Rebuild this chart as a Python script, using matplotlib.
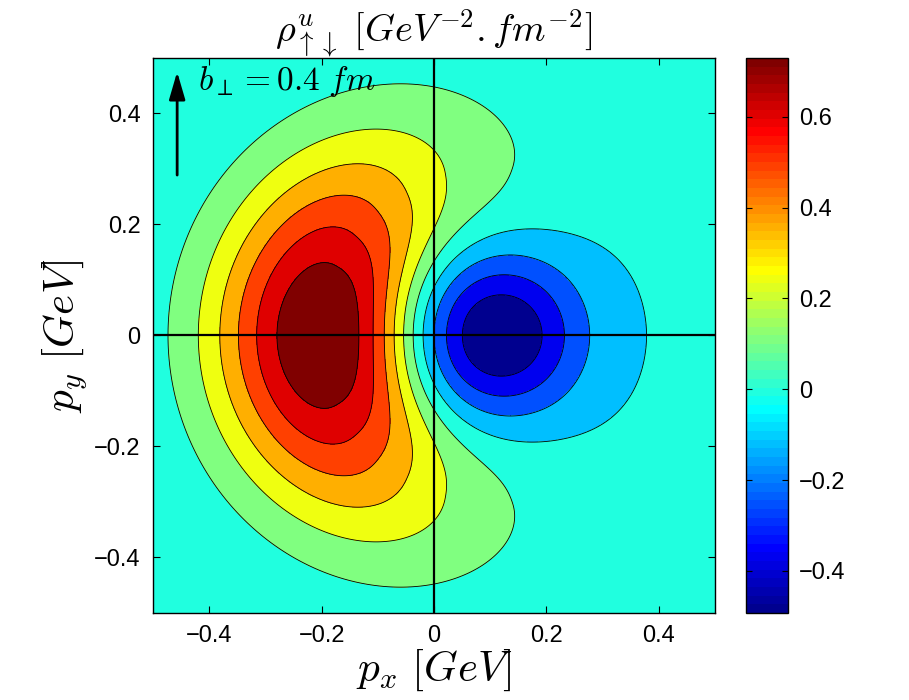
import numpy as np
import matplotlib
matplotlib.use('Agg')
import matplotlib.pyplot as plt
from matplotlib.colors import Normalize, ListedColormap

plt.rcParams['mathtext.fontset'] = 'cm'

# colour scale / contour levels
c_min, c_max = -0.493, 0.730
contour_levels = [-0.371, -0.248, -0.126, -0.004, 0.118, 0.241, 0.363, 0.485, 0.608, 0.730]
cbar_ticks = [-0.4, -0.2, 0, 0.2, 0.4, 0.6]
cbar_labels = ['\u22120.4', '\u22120.2', '0', '0.2', '0.4', '0.6']
axis_ticks = [-0.4, -0.2, 0, 0.2, 0.4]
axis_labels = ['\u22120.4', '\u22120.2', '0', '0.2', '0.4']

# positive crescent lobe (p_x < 0)
pos_peak = 0.85
pos_center = (0.10, 0.0)      # centre of curvature of the crescent
pos_ridge = 0.305             # ridge radius (peak at p_x ~ -0.205)
pos_width_out = 0.135
pos_width_in = 0.158
pos_power_in = 2.6
pos_ang_core = 0.95           # angular fall-off: core, horns, cut-off, backside
pos_ang_horn = 0.25
pos_horn_weight = 0.19
pos_cut = (2.3, 0.2)
pos_back = 0.012

# negative round lobe (p_x > 0)
neg_peak = 0.50
neg_center = (0.117, 0.0)
neg_width = 0.098


def matlab_jet(n=64):
    # same construction as MATLAB's jet(n)
    m = int(np.ceil(n / 4))
    u = np.concatenate([np.arange(1, m + 1) / m, np.ones(m - 1), np.arange(m, 0, -1) / m])
    g = int(np.ceil(m / 2)) - (1 if n % 4 == 1 else 0) + np.arange(1, len(u) + 1)
    r = g + m
    b = g - m
    J = np.zeros((n, 3))
    for col, idx in ((0, r), (1, g), (2, b)):
        ok = (idx >= 1) & (idx <= n)
        J[idx[ok] - 1, col] = u[ok]
    return J


p = np.linspace(-0.5, 0.5, 501)
PX, PY = np.meshgrid(p, p)

dx = PX - pos_center[0]
dy = PY - pos_center[1]
r = np.hypot(dx, dy)
phi = np.arctan2(dy, -dx)
dr = r - pos_ridge
radial = np.where(dr >= 0, np.exp(-dr**2 / (2 * pos_width_out**2)),
                  np.exp(-(np.abs(dr) / pos_width_in)**pos_power_in))
ang = ((1 - pos_horn_weight) * np.exp(-pos_ang_core * phi**2)
       + pos_horn_weight * np.exp(-pos_ang_horn * phi**2))
ang = ang / (1 + np.exp((np.abs(phi) - pos_cut[0]) / pos_cut[1]))
ang = ang + pos_back * (1 - np.cos(phi)) / 2
rho_pos = pos_peak * radial * ang
rho_neg = neg_peak * np.exp(-((PX - neg_center[0])**2 + (PY - neg_center[1])**2) / (2 * neg_width**2))
rho = rho_pos - rho_neg

jet_rows = matlab_jet(64)
jet = ListedColormap(jet_rows)
norm = Normalize(c_min, c_max)
band_vals = [c_min] + contour_levels
band_colors = [jet_rows[min(int((v - c_min) / (c_max - c_min) * 64 + 1e-9), 63)] for v in band_vals]
fill_levels = [min(rho.min(), c_min) - 1] + contour_levels + [rho.max() + 1]

fig = plt.figure(figsize=(9.09, 7.0), dpi=100)
ax = fig.add_axes([0.1683, 0.1243, 0.6183, 0.7929])
cax = fig.add_axes([0.8207, 0.1243, 0.0462, 0.7929])

ax.contourf(PX, PY, rho, levels=fill_levels, colors=band_colors)
ax.contour(PX, PY, rho, levels=contour_levels, colors='k', linewidths=0.6,
           linestyles='solid')
ax.axhline(0, color='k', lw=1.6)
ax.axvline(0, color='k', lw=1.6)

ax.set_xlim(-0.5, 0.5)
ax.set_ylim(-0.5, 0.5)
ax.set_xticks(axis_ticks)
ax.set_yticks(axis_ticks)
ax.set_xticklabels(axis_labels)
ax.set_yticklabels(axis_labels)
ax.tick_params(direction='in', length=5, width=0.8, top=True, right=True,
               labelsize=17, pad=9)
for t in ax.get_xticklabels() + ax.get_yticklabels():
    t.set_family('Liberation Sans')
for s in ax.spines.values():
    s.set_linewidth(1.0)

ax.set_xlabel(r'$p_x\ [GeV]$', fontsize=31, labelpad=0)
ax.set_ylabel(r'$p_y\ [GeV]$', fontsize=31, labelpad=3)
ax.set_title(r'$\rho^{u}_{\uparrow\downarrow}\ [GeV^{-2}.fm^{-2}]$', fontsize=27.5, pad=11)

ax.annotate('', xy=(-0.457, 0.480), xytext=(-0.457, 0.284),
            arrowprops=dict(arrowstyle='-|>,head_length=1.2,head_width=0.35',
                            mutation_scale=14, lw=2, color='k'))
ax.text(-0.42, 0.457, r'$b_{\perp}=0.4\ fm$', fontsize=24, va='center', ha='left')

sm = plt.cm.ScalarMappable(norm=norm, cmap=jet)
cb = fig.colorbar(sm, cax=cax, ticks=cbar_ticks)
cb.ax.set_yticklabels(cbar_labels)
cb.ax.tick_params(direction='in', length=4, width=0.8, left=True, right=True,
                  labelsize=17, pad=8)
for t in cb.ax.get_yticklabels():
    t.set_family('Liberation Sans')
cb.outline.set_linewidth(1.0)

fig.savefig('out.png', dpi=100)
